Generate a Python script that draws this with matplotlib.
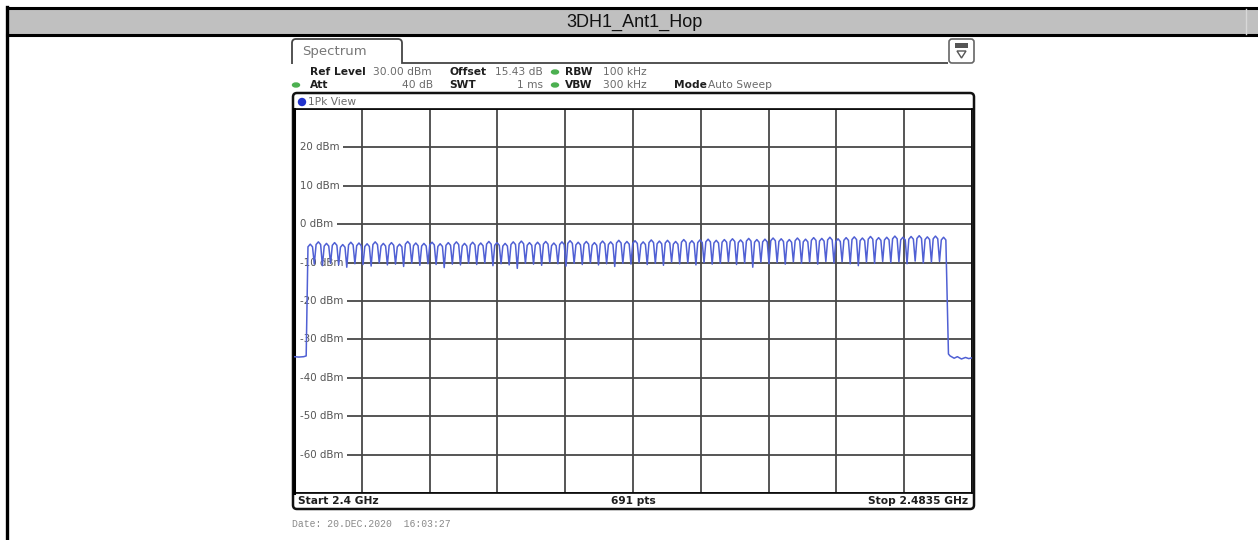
import numpy as np
import matplotlib
matplotlib.use("Agg")
import matplotlib.pyplot as plt
from matplotlib.patches import Rectangle, FancyBboxPatch, Ellipse, Polygon, PathPatch
from matplotlib.path import Path

# sweep settings
f_start = 2400.0      # MHz
f_stop = 2483.5       # MHz
ref_level = 30.0      # dBm
y_bottom = -70.0      # dBm
y_labels = [20, 10, 0, -10, -20, -30, -40, -50, -60]

# hop channels 2402..2480 MHz, peak-hold level of each channel
channels = np.arange(2402, 2481)
peak_dbm = [-5.2, -4.6, -5.0, -4.8, -5.3, -4.7, -4.9, -5.1, -4.6, -5.0,
            -4.8, -5.2, -4.5, -4.9, -5.0, -4.7, -5.1, -4.8, -4.6, -5.0,
            -4.7, -4.9, -4.5, -4.8, -5.0, -4.6, -4.4, -4.8, -4.7, -4.5,
            -4.9, -4.6, -4.3, -4.7, -4.5, -4.8, -4.4, -4.6, -4.2, -4.5,
            -4.3, -4.6, -4.1, -4.4, -4.2, -4.5, -4.0, -4.3, -4.1, -3.9,
            -4.2, -4.0, -3.8, -4.1, -3.7, -4.0, -3.9, -3.6, -3.8, -4.0,
            -3.6, -3.9, -3.5, -3.7, -3.4, -3.8, -3.5, -3.3, -3.6, -3.2,
            -3.5, -3.4, -3.1, -3.4, -3.2, -3.0, -3.3, -3.1, -3.4]
# level of the dip between neighbouring channels
dip_dbm = [-10.4, -10.8, -10.2, -10.6, -11.2, -10.3, -10.5, -10.9, -10.1, -10.6,
           -10.4, -11.0, -10.2, -10.7, -10.3, -10.5, -11.3, -10.4, -10.6, -10.2,
           -10.5, -10.1, -10.8, -10.3, -10.6, -11.5, -10.2, -10.4, -10.7, -10.0,
           -10.3, -10.9, -10.2, -10.5, -10.1, -10.6, -10.3, -11.0, -10.2, -10.4,
           -10.0, -10.5, -10.2, -10.7, -9.9, -10.3, -10.1, -10.6, -10.0, -10.4,
           -10.2, -9.8, -10.5, -10.1, -11.2, -9.9, -10.3, -10.0, -10.4, -9.8,
           -10.2, -9.9, -10.4, -9.7, -10.1, -9.8, -10.3, -10.8, -9.9, -10.2,
           -9.7, -10.0, -9.8, -10.3, -9.6, -10.1, -9.9, -9.7]
# noise floor outside the band
lead_f = [2400.0, 2400.6, 2401.2, 2401.5]
lead_dbm = [-34.5, -34.6, -34.5, -34.3]
tail_f = [2480.6, 2480.8, 2481.3, 2481.7, 2482.2, 2482.7, 2483.1, 2483.5]
tail_dbm = [-33.8, -34.3, -34.9, -34.5, -35.1, -34.7, -35.0, -34.8]

# build the trace
freq = list(lead_f)
level = list(lead_dbm)
for i, f in enumerate(channels):
    p = peak_dbm[i]
    freq += [f - 0.28, f, f + 0.28]
    level += [p - 0.7, p, p - 0.7]
    if i < len(dip_dbm):
        freq.append(f + 0.5)
        level.append(dip_dbm[i])
freq += tail_f
level += tail_dbm

W, H = 1258, 540
fig = plt.figure(figsize=(W / 100, H / 100), dpi=100)

# page layer in pixel coordinates
bg = fig.add_axes([0, 0, 1, 1])
bg.set_xlim(0, W)
bg.set_ylim(H, 0)
bg.axis("off")

# table header
bg.add_patch(Rectangle((7, 8), W - 7, 27, facecolor="#c0c0c0", edgecolor="none"))
bg.plot([7, W], [8, 8], color="black", lw=2.2)
bg.plot([7, W], [35, 35], color="black", lw=2.2)
bg.plot([7, 7], [7, H], color="black", lw=2.4)
bg.plot([1246, 1246], [9, 34], color="#d8d8d8", lw=1)
bg.text(634, 22, "3DH1_Ant1_Hop", ha="center", va="center", fontsize=13,
        family=["Liberation Sans Narrow", "Liberation Sans"], color="#111111")

# "Spectrum" tab
tab = Path([(292, 64), (292, 43), (292, 39), (296, 39), (398, 39), (402, 39),
            (402, 43), (402, 63), (948, 63)],
           [Path.MOVETO, Path.LINETO, Path.CURVE3, Path.CURVE3, Path.LINETO,
            Path.CURVE3, Path.CURVE3, Path.LINETO, Path.LINETO])
bg.add_patch(PathPatch(tab, facecolor="none", edgecolor="#444444", lw=1.3))
bg.text(302, 52, "Spectrum", fontsize=9.5, color="#777777", va="center",
        family="DejaVu Sans")

# menu icon
bg.add_patch(FancyBboxPatch((949, 39), 25, 24, boxstyle="round,pad=0,rounding_size=3",
                            facecolor="white", edgecolor="#666666", lw=1.2))
bg.add_patch(Rectangle((955, 43), 13, 5, facecolor="#555555", edgecolor="none"))
bg.add_patch(Polygon([(957, 51), (966, 51), (961.5, 58)], closed=True,
                     facecolor="white", edgecolor="#555555", lw=1))

# setting rows
dark = "#1e1e1e"
grey = "#6a6a6a"
fs = 7.7
row1, row2 = 72, 85
bg.text(310, row1, "Ref Level", fontsize=fs, weight="bold", color=dark, va="center")
bg.text(373, row1, "30.00 dBm", fontsize=fs, color=grey, va="center")
bg.text(449, row1, "Offset", fontsize=fs, weight="bold", color=dark, va="center")
bg.text(495, row1, "15.43 dB", fontsize=fs, color=grey, va="center")
bg.text(565, row1, "RBW", fontsize=fs, weight="bold", color=dark, va="center")
bg.text(603, row1, "100 kHz", fontsize=fs, color=grey, va="center")
bg.text(310, row2, "Att", fontsize=fs, weight="bold", color=dark, va="center")
bg.text(433, row2, "40 dB", fontsize=fs, color=grey, va="center", ha="right")
bg.text(449, row2, "SWT", fontsize=fs, weight="bold", color=dark, va="center")
bg.text(543, row2, "1 ms", fontsize=fs, color=grey, va="center", ha="right")
bg.text(565, row2, "VBW", fontsize=fs, weight="bold", color=dark, va="center")
bg.text(603, row2, "300 kHz", fontsize=fs, color=grey, va="center")
bg.text(674, row2, "Mode", fontsize=fs, weight="bold", color=dark, va="center")
bg.text(708, row2, "Auto Sweep", fontsize=fs, color=grey, va="center")
for cx, cy in [(555, row1), (555, row2), (296, row2)]:
    bg.add_patch(Ellipse((cx, cy), 7, 4, color="#4cb050"))

# trace window frame
bg.add_patch(FancyBboxPatch((293, 93), 681, 416, boxstyle="round,pad=0,rounding_size=4",
                            facecolor="white", edgecolor="#111111", lw=1.8))
bg.add_patch(Ellipse((302, 102), 7, 7, color="#2233cc"))
bg.text(308, 102, "1Pk View", fontsize=fs, color=grey, va="center")
bg.text(298, 501, "Start 2.4 GHz", fontsize=fs, weight="bold", color=dark, va="center")
bg.text(633, 501, "691 pts", fontsize=fs, weight="bold", color=dark, va="center", ha="center")
bg.text(968, 501, "Stop 2.4835 GHz", fontsize=fs, weight="bold", color=dark, va="center",
        ha="right")
bg.text(292, 524, "Date: 20.DEC.2020  16:03:27", fontsize=7, color="#8a8a8a",
        va="center", family="Liberation Mono")

# diagram
x0, x1, yt, yb = 294, 972, 109, 493
ax = fig.add_axes([x0 / W, (H - yb) / H, (x1 - x0) / W, (yb - yt) / H])
ax.set_xlim(f_start, f_stop)
ax.set_ylim(y_bottom, ref_level)
ax.set_xticks(np.linspace(f_start, f_stop, 11))
ax.set_yticks(np.arange(y_bottom, ref_level + 1, 10))
ax.tick_params(length=0, labelbottom=False, labelleft=False)
ax.grid(True, color="#484848", lw=1.3, zorder=1)
ax.set_axisbelow(True)
for side in ["top", "bottom", "right"]:
    ax.spines[side].set_linewidth(1.2)
ax.spines["left"].set_linewidth(2.2)

for v in y_labels:
    ax.text(f_start + 0.75, v, f"{v} dBm", fontsize=7.4, color="#555555", va="center",
            ha="left", zorder=2,
            bbox=dict(facecolor="white", edgecolor="none", pad=2.6))

ax.plot(freq, level, color="#5060d4", lw=1.1, zorder=3)

fig.savefig("out.png", dpi=100)
